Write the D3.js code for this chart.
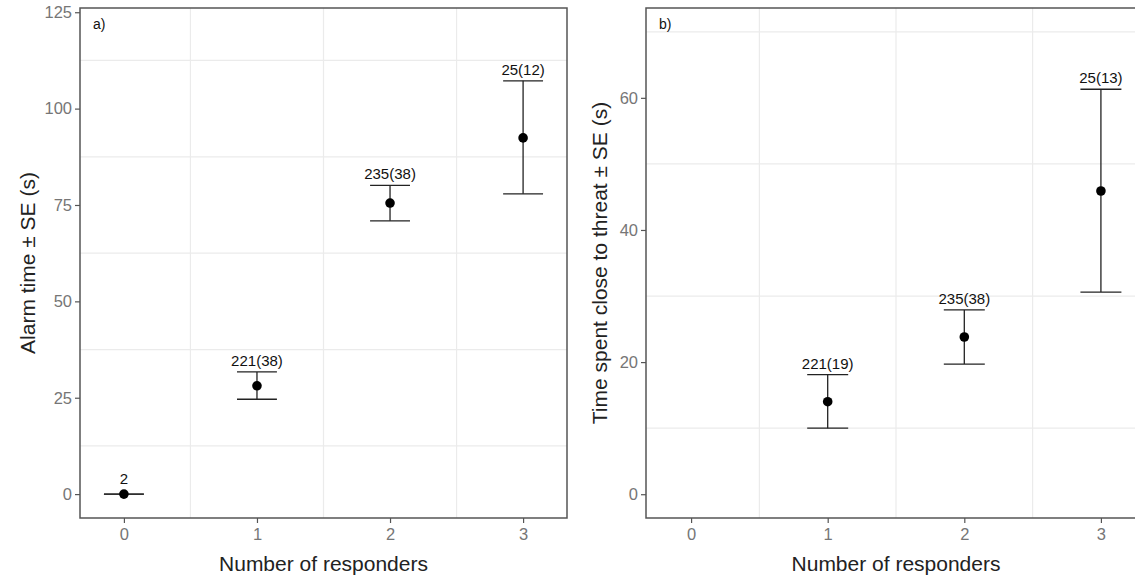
<!DOCTYPE html>
<html><head><meta charset="utf-8">
<script src="https://cdn.jsdelivr.net/npm/d3@7"></script>
<style>html,body{margin:0;padding:0;background:#fff}svg{display:block;font-family:"Liberation Sans",Arial,sans-serif}</style>
</head><body>
<svg id="chart" width="1135" height="577"></svg>
<script>
// ---- data ----
const xTicks = [0, 1, 2, 3];
const xTitle = "Number of responders";

const alarmX = [0, 1, 2, 3];
const alarmMean = [0, 28.1, 75.5, 92.4];
const alarmLower = [0, 24.6, 70.9, 77.9];
const alarmUpper = [0, 31.7, 80.1, 107.2];
const alarmLabels = ["2", "221(38)", "235(38)", "25(12)"];
const alarmTicks = [0, 25, 50, 75, 100, 125];
const alarmMinorTicks = [12.5, 37.5, 62.5, 87.5, 112.5];
const alarmTitle = "Alarm time \u00b1 SE (s)";

const threatX = [1, 2, 3];
const threatMean = [14.0, 23.8, 45.9];
const threatLower = [10.0, 19.7, 30.6];
const threatUpper = [18.1, 27.9, 61.3];
const threatLabels = ["221(19)", "235(38)", "25(13)"];
const threatTicks = [0, 20, 40, 60];
const threatMinorTicks = [10, 30, 50, 70];
const threatTitle = "Time spent close to threat \u00b1 SE (s)";

const xMinorTicks = [0.5, 1.5, 2.5];

// ---- drawing ----
const svg = d3.select("#chart");
svg.append("rect").attr("width", 1135).attr("height", 577).attr("fill", "#fff");

function panel(opts) {
  const {left, right, top, bottom, yDomain, yTicks, yMinor, xs, mean, lower, upper, labels, tag, yTitle, yTitleX} = opts;
  const x = d3.scaleLinear().domain([-0.33, 3.33]).range([left, right]);
  const y = d3.scaleLinear().domain(yDomain).range([bottom, top]);
  const g = svg.append("g");

  // minor grid
  g.selectAll(".hg").data(yMinor).join("line")
    .attr("x1", left).attr("x2", right)
    .attr("y1", d => y(d)).attr("y2", d => y(d))
    .attr("stroke", "#ebebeb").attr("stroke-width", 1.2);
  g.selectAll(".vg").data(xMinorTicks).join("line")
    .attr("x1", d => x(d)).attr("x2", d => x(d))
    .attr("y1", top).attr("y2", bottom)
    .attr("stroke", "#ebebeb").attr("stroke-width", 1.2);

  // axes
  const yAxis = d3.axisLeft(y).tickValues(yTicks).tickSize(5).tickPadding(3).tickFormat(d3.format("d"));
  const ya = g.append("g").attr("transform", `translate(${left},0)`).call(yAxis);
  const xAxis = d3.axisBottom(x).tickValues(xTicks).tickSize(5).tickPadding(5).tickFormat(d3.format("d"));
  const xa = g.append("g").attr("transform", `translate(0,${bottom})`).call(xAxis);
  [ya, xa].forEach(a => {
    a.select(".domain").remove();
    a.selectAll(".tick line").attr("stroke", "#555").attr("stroke-width", 1.2);
    a.selectAll(".tick text").attr("fill", "#767676").attr("font-size", 16.5);
  });

  // border
  g.append("rect").attr("x", left).attr("y", top).attr("width", right - left).attr("height", bottom - top)
    .attr("fill", "none").attr("stroke", "#555").attr("stroke-width", 1.5);

  // error bars
  const w = 0.15;
  const eb = g.selectAll(".eb").data(xs.map((v, i) => ({x: v, m: mean[i], lo: lower[i], hi: upper[i], lab: labels[i]}))).join("g");
  eb.append("line").attr("x1", d => x(d.x)).attr("x2", d => x(d.x)).attr("y1", d => y(d.lo)).attr("y2", d => y(d.hi))
    .attr("stroke", "#222").attr("stroke-width", 1.3);
  eb.append("line").attr("x1", d => x(d.x - w)).attr("x2", d => x(d.x + w)).attr("y1", d => y(d.lo)).attr("y2", d => y(d.lo))
    .attr("stroke", "#222").attr("stroke-width", 1.3);
  eb.append("line").attr("x1", d => x(d.x - w)).attr("x2", d => x(d.x + w)).attr("y1", d => y(d.hi)).attr("y2", d => y(d.hi))
    .attr("stroke", "#222").attr("stroke-width", 1.3);
  eb.append("circle").attr("cx", d => x(d.x)).attr("cy", d => y(d.m)).attr("r", 4.8).attr("fill", "#000");
  // label sits above the upper cap, or above the point when the bar has no extent
  eb.append("text").attr("x", d => x(d.x)).attr("y", d => Math.min(y(d.hi) - 6, y(d.m) - 10))
    .attr("text-anchor", "middle").attr("font-size", 15).attr("fill", "#111").text(d => d.lab);

  // tag
  g.append("text").attr("x", left + 13).attr("y", top + 21).attr("font-size", 14).attr("fill", "#111").text(tag);

  // titles
  g.append("text").attr("x", (left + right) / 2).attr("y", 571).attr("text-anchor", "middle")
    .attr("font-size", 21).attr("fill", "#222").text(xTitle);
  g.append("text").attr("transform", `translate(${yTitleX},${(top + bottom) / 2}) rotate(-90)`)
    .attr("text-anchor", "middle").attr("font-size", 21).attr("fill", "#222").text(yTitle);
}

panel({left: 80, right: 567, top: 8, bottom: 518, yDomain: [-6.2, 126.1], yTicks: alarmTicks, yMinor: alarmMinorTicks,
  xs: alarmX, mean: alarmMean, lower: alarmLower, upper: alarmUpper, labels: alarmLabels, tag: "a)",
  yTitle: alarmTitle, yTitleX: 35});
panel({left: 646, right: 1146, top: 8, bottom: 518, yDomain: [-3.6, 73.6], yTicks: threatTicks, yMinor: threatMinorTicks,
  xs: threatX, mean: threatMean, lower: threatLower, upper: threatUpper, labels: threatLabels, tag: "b)",
  yTitle: threatTitle, yTitleX: 607});
</script>
</body></html>
